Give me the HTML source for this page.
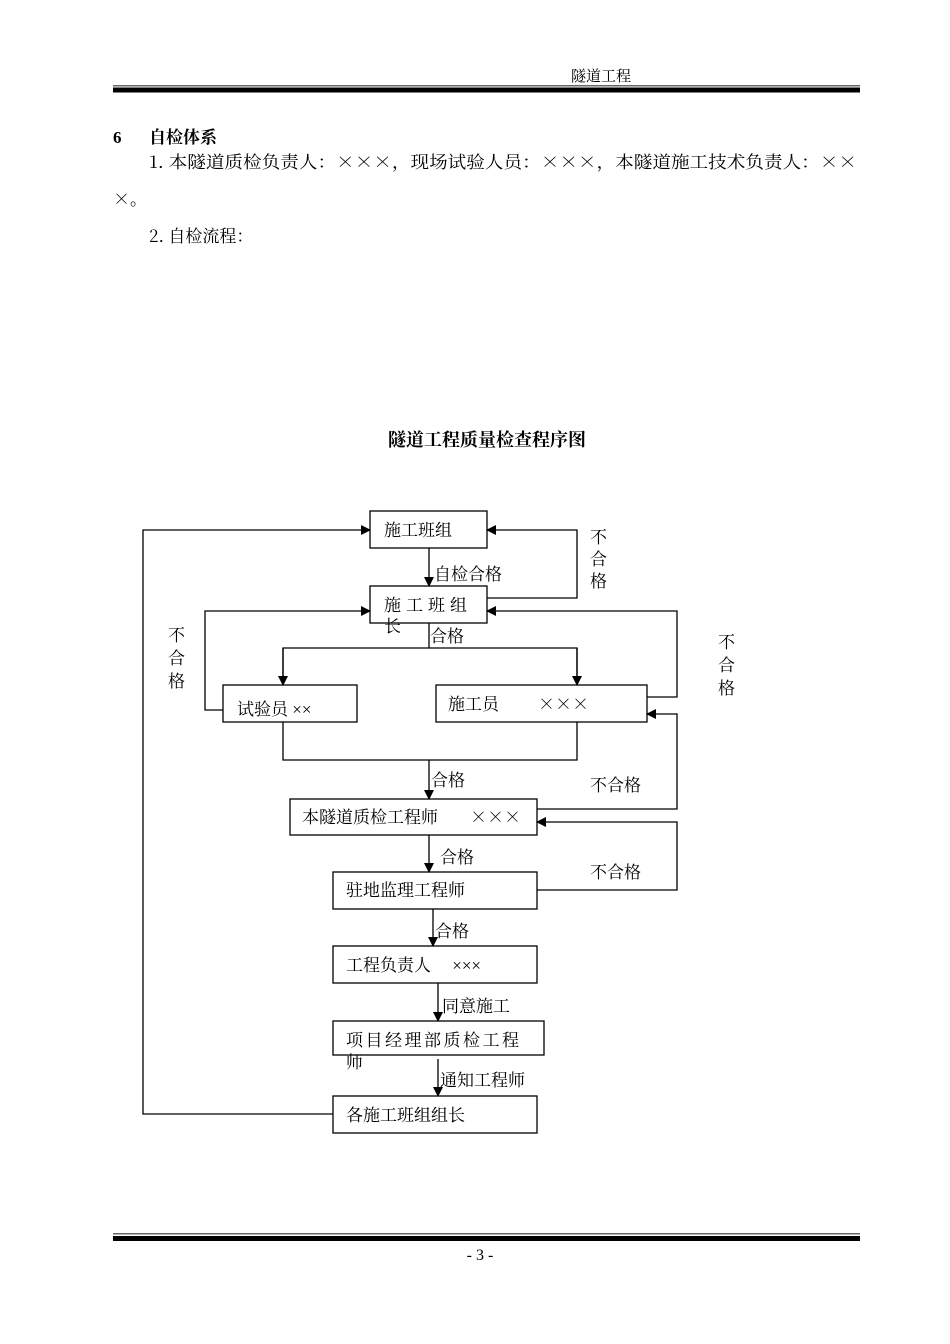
<!DOCTYPE html>
<html><head><meta charset="utf-8"><style>
body{margin:0;background:#fff;}
svg{display:block;}
text{font-family:"Liberation Serif","Noto Serif CJK SC","Noto Sans CJK SC",serif;fill:#000;}
.c{font-family:"Noto Serif CJK SC","Noto Sans CJK SC",serif;}
</style></head><body>
<svg width="950" height="1344" viewBox="0 0 950 1344" xmlns="http://www.w3.org/2000/svg">
<defs><marker id="a" markerWidth="10" markerHeight="10" refX="9" refY="5" orient="auto" markerUnits="userSpaceOnUse"><path d="M0,0 L10,5 L0,10 z" fill="#000"/></marker></defs>
<!-- header -->
<text x="571" y="81" font-size="15">隧道工程</text>
<rect x="113" y="85" width="747" height="1.5" fill="#666"/>
<rect x="113" y="87.5" width="747" height="5" fill="#000"/>
<!-- body text -->
<text x="113" y="143" font-size="17" font-weight="bold" font-family="Liberation Sans,Noto Sans CJK SC,sans-serif">6</text>
<text x="149" y="143" font-size="17" font-weight="bold" font-family="Noto Sans CJK SC,sans-serif">自检体系</text>
<text class="c" x="149" y="168" font-size="17" textLength="708" lengthAdjust="spacingAndGlyphs">1. 本隧道质检负责人：×××，现场试验人员：×××，本隧道施工技术负责人：××</text>
<text class="c" x="113" y="205" font-size="17">×。</text>
<text class="c" x="149" y="242" font-size="17">2. 自检流程：</text>
<text x="487" y="446" font-size="18" font-weight="bold" text-anchor="middle" font-family="Liberation Sans,Noto Sans CJK SC,sans-serif">隧道工程质量检查程序图</text>
<g stroke="#000" stroke-width="1.3" fill="none">
<rect x="370" y="511" width="117" height="37"/>
<rect x="370" y="586" width="117" height="37"/>
<rect x="223" y="685" width="134" height="37"/>
<rect x="436" y="685" width="211" height="37"/>
<rect x="290" y="799" width="247" height="36"/>
<rect x="333" y="872" width="204" height="37"/>
<rect x="333" y="946" width="204" height="37"/>
<rect x="333" y="1021" width="211" height="34"/>
<rect x="333" y="1096" width="204" height="37"/>
<polyline points="333,1114 143,1114 143,530 370,530" marker-end="url(#a)"/>
<polyline points="487,598 577,598 577,530 487,530" marker-end="url(#a)"/>
<line x1="429" y1="548" x2="429" y2="586" marker-end="url(#a)"/>
<polyline points="429,623 429,648"/>
<polyline points="283,685 283,648 577,648 577,685"/>
<line x1="283" y1="648" x2="283" y2="685" marker-end="url(#a)"/>
<line x1="577" y1="648" x2="577" y2="685" marker-end="url(#a)"/>
<polyline points="223,710 205,710 205,611 370,611" marker-end="url(#a)"/>
<polyline points="647,697 677,697 677,611 487,611" marker-end="url(#a)"/>
<polyline points="283,722 283,760 577,760 577,722"/>
<line x1="429" y1="760" x2="429" y2="799" marker-end="url(#a)"/>
<polyline points="537,809 677,809 677,714 647,714" marker-end="url(#a)"/>
<line x1="429" y1="835" x2="429" y2="872" marker-end="url(#a)"/>
<polyline points="537,890 677,890 677,822 537,822" marker-end="url(#a)"/>
<line x1="433" y1="909" x2="433" y2="946" marker-end="url(#a)"/>
<line x1="438" y1="983" x2="438" y2="1021" marker-end="url(#a)"/>
<line x1="438" y1="1059" x2="438" y2="1096" marker-end="url(#a)"/>
</g>
<g font-size="17">
<text x="384" y="536">施工班组</text>
<text x="434" y="580">自检合格</text>
<text x="384" y="611" letter-spacing="5">施工班组</text>
<text x="384" y="632">长</text>
<text x="430" y="642">合格</text>
<text x="590" y="543">不</text><text x="590" y="565">合</text><text x="590" y="587">格</text>
<text x="168" y="641">不</text><text x="168" y="664">合</text><text x="168" y="687">格</text>
<text x="718" y="648">不</text><text x="718" y="671">合</text><text x="718" y="694">格</text>
<text x="237" y="715">试验员 ××</text>
<text x="448" y="710">施工员</text><text class="c" x="538" y="710">×××</text>
<text x="431" y="786">合格</text>
<text x="590" y="791">不合格</text>
<text x="302" y="823">本隧道质检工程师</text><text class="c" x="470" y="823">×××</text>
<text x="440" y="863">合格</text>
<text x="590" y="878">不合格</text>
<text x="346" y="896">驻地监理工程师</text>
<text x="435" y="937">合格</text>
<text x="346" y="971">工程负责人　 ×××</text>
<text x="442" y="1012">同意施工</text>
<text x="346" y="1046" letter-spacing="2.5">项目经理部质检工程</text>
<text x="346" y="1068">师</text>
<text x="440" y="1086">通知工程师</text>
<text x="346" y="1121">各施工班组组长</text>
</g>
<!-- footer -->
<rect x="113" y="1233" width="747" height="1.5" fill="#666"/>
<rect x="113" y="1236" width="747" height="5" fill="#000"/>
<text x="480" y="1260" font-size="16" text-anchor="middle">- 3 -</text>
</svg>
</body></html>
